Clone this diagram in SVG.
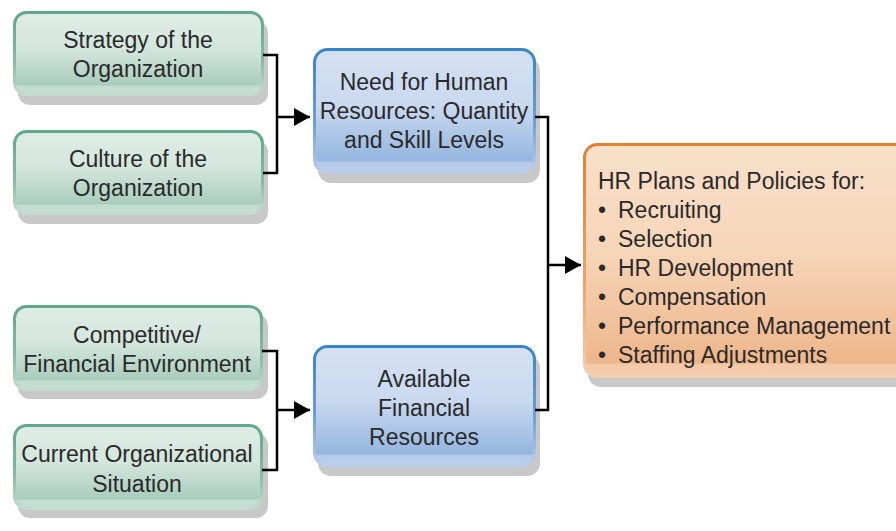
<svg xmlns="http://www.w3.org/2000/svg" width="896" height="531" viewBox="0 0 896 531">
<defs>
<linearGradient id="gFill" x1="0" y1="0" x2="0" y2="1">
<stop offset="0" stop-color="#dfece6"/><stop offset="0.45" stop-color="#d3e6dc"/><stop offset="0.88" stop-color="#a9cdbc"/><stop offset="0.9" stop-color="#c2dcd0"/><stop offset="1" stop-color="#c6ded3"/>
</linearGradient>
<linearGradient id="gStroke" x1="0" y1="0" x2="0" y2="1">
<stop offset="0" stop-color="#5ea98a"/><stop offset="0.6" stop-color="#85bba4"/><stop offset="1" stop-color="#c3dcd0"/>
</linearGradient>
<linearGradient id="bFill" x1="0" y1="0" x2="0" y2="1">
<stop offset="0" stop-color="#d5e1f2"/><stop offset="0.45" stop-color="#c9d9ef"/><stop offset="0.9" stop-color="#95b6df"/><stop offset="0.92" stop-color="#b6cbe9"/><stop offset="1" stop-color="#bccfea"/>
</linearGradient>
<linearGradient id="bStroke" x1="0" y1="0" x2="0" y2="1">
<stop offset="0" stop-color="#3585c9"/><stop offset="0.6" stop-color="#6f9fd6"/><stop offset="1" stop-color="#bccfea"/>
</linearGradient>
<linearGradient id="oFill" x1="0" y1="0" x2="0" y2="1">
<stop offset="0" stop-color="#f8e0ca"/><stop offset="0.45" stop-color="#f6d6b9"/><stop offset="0.94" stop-color="#eeb68a"/><stop offset="0.95" stop-color="#f3caa8"/><stop offset="1" stop-color="#f4ceaf"/>
</linearGradient>
<linearGradient id="oStroke" x1="0" y1="0" x2="0" y2="1">
<stop offset="0" stop-color="#e67e2e"/><stop offset="0.6" stop-color="#eea46a"/><stop offset="1" stop-color="#f4ceaf"/>
</linearGradient>
<marker id="arrow" viewBox="0 0 16 18" refX="16" refY="9" markerWidth="16" markerHeight="18" markerUnits="userSpaceOnUse" orient="auto">
<path d="M0,0 L16,9 L0,18 Z" fill="#000"/>
</marker>
</defs>
<style>
.shadow{fill:#c8c8c8}
.g{fill:url(#gFill);stroke:url(#gStroke);stroke-width:3}
.b{fill:url(#bFill);stroke:url(#bStroke);stroke-width:3}
.o{fill:url(#oFill);stroke:url(#oStroke);stroke-width:3}
text{font-family:"Liberation Sans",Arial,sans-serif;font-size:23px;fill:#2a2a2a}
.c{text-anchor:middle}
.line{fill:none;stroke:#000;stroke-width:2.5}
</style>
<rect width="896" height="531" fill="#fff"/>

<g id="strategy">
<rect class="shadow" x="18" y="21" width="250" height="84" rx="12"/>
<rect class="g" x="14.5" y="12.5" width="248" height="82" rx="12"/>
<text class="c" x="138" y="48">Strategy of the</text>
<text class="c" x="138" y="77">Organization</text>
</g>
<g id="culture">
<rect class="shadow" x="18" y="140" width="250" height="84" rx="12"/>
<rect class="g" x="14.5" y="131.5" width="248" height="82" rx="12"/>
<text class="c" x="138" y="167">Culture of the</text>
<text class="c" x="138" y="196">Organization</text>
</g>
<g id="competitive">
<rect class="shadow" x="18" y="314" width="250" height="85" rx="12"/>
<rect class="g" x="14.5" y="306.5" width="247" height="83" rx="12"/>
<text class="c" x="137" y="343">Competitive/</text>
<text class="c" x="137" y="372">Financial Environment</text>
</g>
<g id="current">
<rect class="shadow" x="18" y="433" width="250" height="85" rx="12"/>
<rect class="g" x="14.5" y="425.5" width="247" height="83" rx="12"/>
<text class="c" x="137" y="462">Current Organizational</text>
<text class="c" x="137" y="492">Situation</text>
</g>
<g id="need">
<rect class="shadow" x="318" y="58" width="222" height="125" rx="13"/>
<rect class="b" x="314.5" y="49.5" width="220" height="123" rx="13"/>
<text class="c" x="424" y="90">Need for Human</text>
<text class="c" x="424" y="119">Resources: Quantity</text>
<text class="c" x="424" y="148">and Skill Levels</text>
</g>
<g id="available">
<rect class="shadow" x="318" y="355" width="222" height="121" rx="13"/>
<rect class="b" x="314.5" y="346.5" width="220" height="119" rx="13"/>
<text class="c" x="424" y="387">Available</text>
<text class="c" x="424" y="416">Financial</text>
<text class="c" x="424" y="445">Resources</text>
</g>
<g id="hrplans">
<rect class="shadow" x="588" y="153" width="340" height="234" rx="13"/>
<rect class="o" x="584.5" y="144.5" width="340" height="232" rx="13"/>
<text x="598" y="189">HR Plans and Policies for:</text>
<text x="598" y="218">•</text><text x="618" y="218">Recruiting</text>
<text x="598" y="247">•</text><text x="618" y="247">Selection</text>
<text x="598" y="276">•</text><text x="618" y="276">HR Development</text>
<text x="598" y="305">•</text><text x="618" y="305">Compensation</text>
<text x="598" y="334">•</text><text x="618" y="334">Performance Management</text>
<text x="598" y="363">•</text><text x="618" y="363">Staffing Adjustments</text>
</g>

<g id="connectors">
<path class="line" d="M263,55 H277 V173 H263"/>
<path class="line" d="M277,117 H310" marker-end="url(#arrow)"/>
<path class="line" d="M262,351 H277 V470 H262"/>
<path class="line" d="M277,410 H310" marker-end="url(#arrow)"/>
<path class="line" d="M535,117 H548 V410 H535"/>
<path class="line" d="M548,265 H581" marker-end="url(#arrow)"/>
</g>
</svg>
